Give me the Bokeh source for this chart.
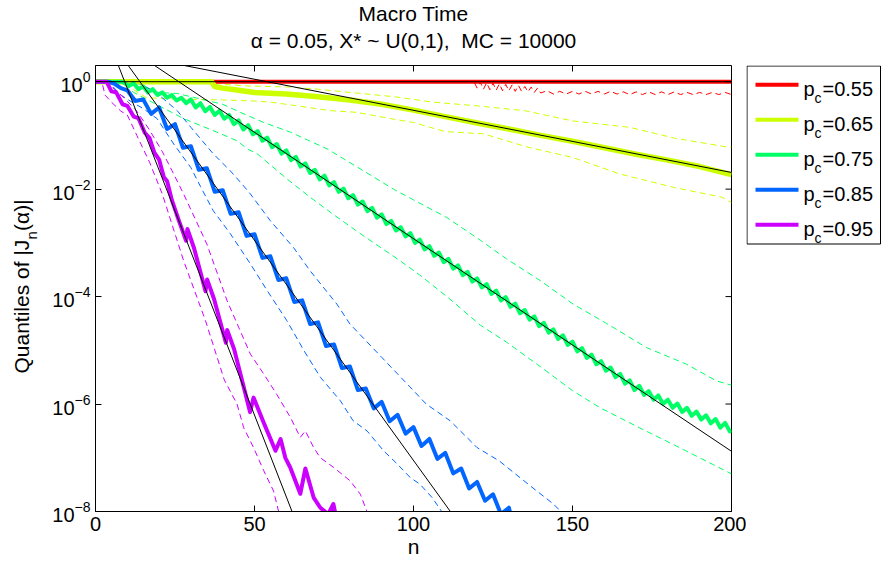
import numpy as np
from bokeh.plotting import figure
from bokeh.models import Range1d, FixedTicker, LogTickFormatter, Title
from bokeh.layouts import row
from bokeh.embed import file_html
from bokeh.resources import INLINE
from bokeh.core.properties import value

FONT = "Liberation Sans"

# ---------------- data: (n, log10 of quantile) ----------------
labels = ["0.55", "0.65", "0.75", "0.85", "0.95"]
colors = ["#FF0000", "#CCFF00", "#00FF66", "#0066FF", "#CC00FF"]

red_med = [(0, 0), (200, 0)]
red_lo = [(0, 0), (119, 0), (120, -0.12), (121, -0.01), (122, -0.14), (123, -0.02), (124, -0.15),
          (125, -0.03), (126, -0.16), (127, -0.04), (128, -0.17), (129, -0.05), (130, -0.17),
          (131, -0.06), (132, -0.18), (133, -0.07), (134, -0.18), (135, -0.09), (136, -0.19),
          (137, -0.10), (138, -0.20), (139, -0.12), (140, -0.21), (142, -0.17), (144, -0.23),
          (146, -0.18), (148, -0.23), (150, -0.18), (152, -0.23), (154, -0.18), (156, -0.23),
          (158, -0.18), (160, -0.23), (162, -0.18), (164, -0.23), (166, -0.19), (168, -0.24),
          (170, -0.19), (172, -0.24), (174, -0.19), (176, -0.24), (178, -0.19), (180, -0.24),
          (182, -0.19), (184, -0.24), (186, -0.20), (188, -0.24), (190, -0.20), (192, -0.24),
          (194, -0.20), (196, -0.24), (198, -0.20), (200, -0.24)]

yel_med = [(0, 0), (36.5, 0), (37.5, -0.09), (40, -0.12), (45, -0.16), (50, -0.20), (60, -0.23),
           (70, -0.28), (80, -0.34), (90, -0.42), (100, -0.53), (110, -0.65), (120, -0.77),
           (130, -0.88), (140, -1.00), (150, -1.11), (160, -1.23), (170, -1.35), (180, -1.46),
           (190, -1.58), (200, -1.73)]
yel_hi = [(0, 0), (38, 0), (40, -0.05), (48, -0.08), (61, -0.10), (70, -0.14), (80, -0.20),
          (94, -0.28), (106, -0.38), (120, -0.45), (135, -0.54), (150, -0.73), (168, -0.85),
          (182, -1.05), (199, -1.22), (200, -1.22)]
yel_lo = [(0, 0), (8, 0), (12, -0.15), (16, -0.30), (30, -0.33), (40, -0.34), (50, -0.36),
          (55, -0.38), (67, -0.48), (74, -0.54), (82, -0.57), (93, -0.69), (100, -0.76),
          (110, -0.93), (122, -0.97), (136, -1.22), (150, -1.41), (165, -1.72), (182, -1.97),
          (197, -2.15), (200, -2.25)]

grn_med = [(0, 0), (8, 0), (9, -0.02), (10.5, -0.08), (12, -0.03), (13.5, -0.14), (15, -0.09),
           (16.5, -0.20), (18, -0.14), (19.5, -0.25), (21, -0.20), (22.5, -0.30), (24, -0.25),
           (25.5, -0.35), (27, -0.30), (28.5, -0.40), (30, -0.33), (31.5, -0.48), (33, -0.40),
           (34.5, -0.55), (36, -0.47), (37.5, -0.62), (39, -0.54), (40.5, -0.69), (42, -0.62),
           (43.5, -0.79), (45, -0.72), (46.5, -0.89), (48, -0.81), (49.5, -0.98), (51, -0.92),
           (52.5, -1.10), (54, -1.04), (55.5, -1.22), (57, -1.16), (58.5, -1.34), (60, -1.28),
           (61.5, -1.46), (63, -1.40), (64.5, -1.58), (66, -1.52), (67.5, -1.70), (69, -1.64),
           (70.5, -1.82), (72, -1.75), (73.5, -1.93), (75, -1.87), (76.5, -2.05), (78, -1.99),
           (79.5, -2.17), (81, -2.11), (82.5, -2.29), (84, -2.23), (85.5, -2.41), (87, -2.35),
           (88.5, -2.53), (90, -2.47), (91.5, -2.65), (93, -2.59), (94.5, -2.77), (96, -2.71),
           (97.5, -2.88), (99, -2.82), (100.5, -3.00), (102, -2.94), (103.5, -3.12), (105, -3.06),
           (106.5, -3.24), (108, -3.18), (109.5, -3.36), (111, -3.30), (112.5, -3.48), (114, -3.42),
           (115.5, -3.60), (117, -3.54), (118.5, -3.72), (120, -3.66), (121.5, -3.83), (123, -3.77),
           (124.5, -3.95), (126, -3.89), (127.5, -4.07), (129, -4.01), (130.5, -4.19), (132, -4.13),
           (133.5, -4.31), (135, -4.25), (136.5, -4.43), (138, -4.37), (139.5, -4.55), (141, -4.49),
           (142.5, -4.67), (144, -4.61), (145.5, -4.79), (147, -4.72), (148.5, -4.90), (150, -4.84),
           (151.5, -5.02), (153, -4.96), (154.5, -5.14), (156, -5.08), (157.5, -5.26), (159, -5.20),
           (160.5, -5.38), (162, -5.32), (163.5, -5.50), (165, -5.44), (166.5, -5.62), (168, -5.56),
           (169.5, -5.74), (171, -5.66), (172.5, -5.83), (174, -5.76), (175.5, -5.92), (177, -5.84),
           (178.5, -6.00), (180, -5.92), (181.5, -6.07), (183, -5.99), (184.5, -6.15), (186, -6.07),
           (187.5, -6.22), (189, -6.14), (190.5, -6.29), (192, -6.21), (193.5, -6.36), (195, -6.28),
           (196.5, -6.44), (198, -6.35), (199.5, -6.51), (200, -6.48)]
grn_hi = [(0, 0), (12, 0), (16, -0.10), (19.4, -0.20), (25.7, -0.22), (30, -0.28), (35, -0.35),
          (40, -0.42), (45.5, -0.57), (52.9, -0.76), (61.3, -0.94), (72.8, -1.25), (84.3, -1.66),
          (93.7, -2.00), (100, -2.20), (110.5, -2.53), (121, -2.95), (129.3, -3.30), (139.8, -3.70),
          (150.2, -4.14), (160.7, -4.50), (173.3, -4.95), (185.9, -5.26), (195.3, -5.57), (200, -5.65)]
grn_lo = [(0, 0), (8, 0), (12, -0.20), (20, -0.45), (27.8, -0.69), (38.2, -0.94), (44.5, -1.10),
          (47.7, -1.25), (50.8, -1.34), (60.2, -1.81), (67.5, -2.15), (75, -2.48), (85, -2.90),
          (95, -3.30), (102, -3.60), (110.5, -4.00), (121, -4.53), (129.3, -4.85), (139.8, -5.30),
          (150, -5.75), (158.7, -6.07), (171, -6.44), (181.6, -6.75), (194, -7.12), (200, -7.30)]

blu_med = [(0, 0), (4, 0), (6, -0.04), (8, -0.12), (10, -0.16), (12.5, -0.36), (15, -0.33),
           (17.5, -0.60), (20, -0.48), (22.5, -0.88), (25, -0.79), (27.5, -1.23), (30, -1.20),
           (32.5, -1.64), (35, -1.61), (37.5, -2.05), (40, -2.02), (42.5, -2.46), (45, -2.43),
           (47.5, -2.87), (50, -2.84), (52.5, -3.28), (55, -3.25), (57.5, -3.69), (60, -3.66),
           (62.5, -4.10), (65, -4.07), (67.5, -4.51), (70, -4.48), (72.5, -4.92), (75, -4.89),
           (77.5, -5.33), (80, -5.30), (82.5, -5.74), (85, -5.71), (87.5, -6.08), (90, -5.96),
           (92.5, -6.32), (95, -6.20), (97.5, -6.55), (100, -6.43), (102.5, -6.78), (105, -6.65),
           (107.5, -7.02), (110, -6.91), (112.5, -7.29), (115, -7.20), (117.5, -7.57), (120, -7.45),
           (122.5, -7.80), (125, -7.68), (127.5, -8.05), (130, -7.93), (131.5, -8.30)]
blu_hi = [(0, 0), (10, 0), (14, -0.04), (19.4, -0.22), (25.7, -0.54), (30, -0.85), (37, -1.34),
          (42.4, -1.66), (46, -1.90), (48.7, -2.09), (55, -2.59), (62.3, -3.09), (67.5, -3.52),
          (75.9, -4.14), (80, -4.51), (90, -5.13), (97.9, -5.62), (104, -6.00), (111.5, -6.31),
          (120, -6.81), (127, -7.06), (133.5, -7.37), (138.8, -7.62), (144, -7.86), (148, -8.10)]
blu_lo = [(0, 0), (4, 0), (8, -0.25), (12, -0.40), (15, -0.50), (19.4, -0.69), (24.6, -1.16),
          (30, -1.60), (33, -1.95), (37, -2.40), (42.4, -2.83), (48.7, -3.39), (54, -3.89),
          (60.2, -4.45), (65.5, -5.00), (70.7, -5.50), (77, -5.94), (81, -6.31), (85.4, -6.50),
          (90.6, -6.87), (94.8, -7.11), (99, -7.37), (102, -7.49), (106, -7.75), (110, -8.10)]

mag_med = [(0, 0), (3.5, 0), (5, -0.18), (6.5, -0.20), (8.5, -0.42), (10, -0.45), (12, -0.65),
           (13.5, -0.68), (15.5, -0.95), (17, -1.05), (18.5, -1.32), (20, -1.45), (21.5, -1.78),
           (22.5, -1.85), (24, -2.20), (26, -2.55), (28.5, -2.96), (28.9, -2.74), (31, -3.10),
           (34.6, -3.90), (35.1, -3.68), (37.3, -4.05), (41.0, -4.86), (41.4, -4.62), (43.6, -4.98),
           (48.6, -6.15), (49.7, -5.88), (52.9, -6.35), (56.6, -6.87), (58.2, -6.65), (59.7, -7.00),
           (61.3, -7.19), (64.4, -7.67), (66, -7.20), (68.6, -7.74), (70.7, -7.93), (73.2, -8.05),
           (74.8, -7.86), (76, -8.20)]
mag_hi = [(0, 0), (4, 0), (6, -0.15), (9, -0.30), (13, -0.55), (17, -0.90), (21, -1.30),
          (24, -1.65), (27.7, -2.09), (35, -3.02), (41.4, -4.08), (48.7, -5.07), (52.9, -5.44),
          (57, -5.82), (61.3, -6.25), (64.4, -6.62), (66, -6.50), (68.6, -6.81), (70.7, -7.00),
          (74.9, -7.18), (80.1, -7.43), (83.3, -7.68), (86, -8.10)]
mag_lo = [(0, 0), (2, 0), (3, -0.25), (5, -0.38), (8, -0.55), (10, -0.62), (13, -1.00),
          (17, -1.50), (21, -2.09), (27.7, -3.33), (34.6, -4.45), (40.5, -5.55), (44.5, -6.00),
          (46.6, -6.44), (49.7, -6.81), (52.9, -7.24), (56, -7.62), (58, -8.10)]

# fitted straight lines (log10 scale): start n, end n, start value, end value
fit_n0 = [0, 28, 18.6, 10.3, 7.2]
fit_n1 = [200, 200, 200, 111.6, 61.8]
fit_L0 = [0, 0.3, 0.3, 0.3, 0.3]
fit_L1 = [0, -1.69, -6.88, -8.0, -8.0]

x_ticks = [0, 50, 100, 150, 200]
y_ticks = [1e-8, 1e-6, 1e-4, 1e-2, 1]

title_1 = "Macro Time"
title_2 = "\u03b1 = 0.05, X* ~ U(0,1), \u00a0MC = 10000"
x_label = "n"
y_label_parts = ["Quantiles of |J", "n", "(\u03b1)|"]

medians = [red_med, yel_med, grn_med, blu_med, mag_med]
quantiles = [[red_lo], [yel_hi, yel_lo], [grn_hi, grn_lo], [blu_hi, blu_lo], [mag_hi, mag_lo]]


def xy(pairs):
    return [a for a, b in pairs], [10.0 ** b for a, b in pairs]


TOP, BOT = 65, 50
LW = 44
X0, X1, Y0, Y1 = 0, 200, 1e-8, 2
p = figure(width=746 - LW, height=561, x_range=Range1d(X0, X1), y_range=Range1d(Y0, Y1),
           y_axis_type="log", output_backend="svg", toolbar_location=None, title=None,
           min_border_left=95 - LW, min_border_right=15, min_border_top=TOP, min_border_bottom=BOT)
p.outline_line_color = "black"
p.outline_line_width = 1
p.xgrid.visible = False
p.ygrid.visible = False

# dashed quantiles
for c, qs in zip(colors, quantiles):
    for q in qs:
        xs, ys = xy(q)
        p.line(xs, ys, line_color=c, line_width=1, line_dash="6 4")

# medians
for c, m in zip(colors, medians):
    xs, ys = xy(m)
    p.line(xs, ys, line_color=c, line_width=5.5 if c == "#CCFF00" else 4, line_join="round")

# fits
for a, b, l0, l1 in zip(fit_n0, fit_n1, fit_L0, fit_L1):
    p.line([a, b], [10.0 ** l0, 10.0 ** l1], line_color="black", line_width=1)

# inward ticks on the top and right edges (box style)
tick_px = 6
dx = tick_px * (X1 - X0) / 636.0
dy = 10 ** (-tick_px / 53.73)
p.segment(x0=x_ticks[1:-1], x1=x_ticks[1:-1], y0=[Y1] * 3, y1=[Y1 * dy] * 3,
          line_color="black", line_width=1)
p.segment(x0=[X1] * 5, x1=[X1 - dx] * 5, y0=y_ticks, y1=y_ticks, line_color="black", line_width=1)

p.xaxis.ticker = FixedTicker(ticks=x_ticks)
p.yaxis.ticker = FixedTicker(ticks=y_ticks)
p.yaxis.formatter = LogTickFormatter()

for ax in [p.xaxis[0], p.yaxis[0]]:
    ax.axis_line_color = "black"
    ax.major_tick_in = 6
    ax.major_tick_out = 0
    ax.minor_tick_line_color = None
    ax.major_tick_line_color = "black"
    ax.major_label_text_font = FONT
    ax.major_label_text_font_size = "20px"
    ax.major_label_text_color = "black"
    ax.major_label_standoff = 5

p.xaxis.axis_label = x_label
p.xaxis.axis_label_text_font = FONT
p.xaxis.axis_label_text_font_size = "21px"
p.xaxis.axis_label_text_font_style = "normal"
p.xaxis.axis_label_text_color = "black"
p.xaxis.axis_label_standoff = 1

p.add_layout(Title(text=title_2, align="center", text_font=FONT, text_font_size="21px",
                   text_font_style="normal", text_color="black", standoff=28), "above")
p.add_layout(Title(text=title_1, align="center", text_font=FONT, text_font_size="21px",
                   text_font_style="normal", text_color="black", standoff=-24), "above")

# y-axis label panel (coordinates: x = screen px, y = -screen px)
left = figure(width=LW, height=561, x_range=Range1d(0, LW), y_range=Range1d(-561 + BOT, -TOP),
              output_backend="svg", toolbar_location=None, title=None,
              min_border_left=0, min_border_right=0, min_border_top=TOP, min_border_bottom=BOT,
              x_axis_location=None, y_axis_location=None)
left.outline_line_color = None
left.xgrid.visible = False
left.ygrid.visible = False
left.text(x=[20.5, 30.5, 20.5], y=[-373, -239, -230.5], text=y_label_parts, angle=np.pi / 2,
          text_font=value(FONT), text_font_size=["21px", "15px", "21px"],
          text_align="left", text_baseline="alphabetic", text_color="black")

# legend panel (coordinates: x = screen px - 746, y = -screen px)
leg = figure(width=135, height=561, x_range=Range1d(0, 135), y_range=Range1d(-561 + BOT, -TOP),
             output_backend="svg", toolbar_location=None, title=None,
             min_border_left=0, min_border_right=0, min_border_top=TOP, min_border_bottom=BOT,
             x_axis_location=None, y_axis_location=None)
leg.outline_line_color = None
leg.xgrid.visible = False
leg.ygrid.visible = False
leg.quad(left=0.5, right=134, top=-65.5, bottom=-243.5, fill_color="white", line_color="black",
         line_width=1)
ly = [84.3, 119.3, 154.3, 189.3, 224.3]
for yy, c in zip(ly, colors):
    leg.line([9, 52], [-yy, -yy], line_color=c, line_width=4)
leg.text(x=[57] * 5, y=[-(v + 4.5) for v in ly], text=["p"] * 5, text_font=value(FONT),
         text_font_size="20px", text_baseline="alphabetic", text_color="black")
leg.text(x=[68] * 5, y=[-(v + 13.5) for v in ly], text=["c"] * 5, text_font=value(FONT),
         text_font_size="14px", text_baseline="alphabetic", text_color="black")
leg.text(x=[76] * 5, y=[-(v + 4.5) for v in ly], text=["=" + s for s in labels],
         text_font=value(FONT), text_font_size="20px", text_baseline="alphabetic",
         text_color="black")

layout = row(left, p, leg)
open("out.html", "w").write(file_html(layout, INLINE))
